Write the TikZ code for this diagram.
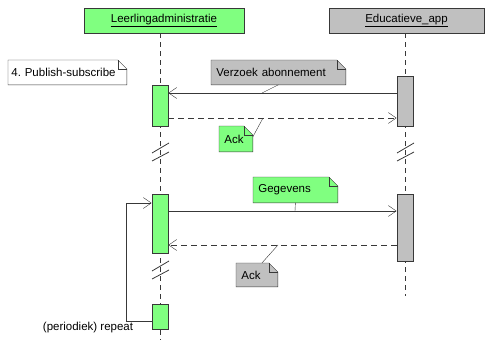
\documentclass[tikz,border=0pt]{standalone}
\usepackage{fontspec}
\setmainfont{Liberation Sans}
\usetikzlibrary{arrows.meta,calc,backgrounds,positioning}
\definecolor{lgreen}{RGB}{128,255,128}
\definecolor{lgray}{RGB}{192,192,192}
\definecolor{linec}{RGB}{56,56,56}
% note with folded corner, drawn behind the node text
\newcommand{\foldnote}[2]{%
  \begin{pgfonlayer}{background}
    \filldraw[fill=#2,draw=linec] (#1.south west) -- (#1.north west) -- ([xshift=-9pt]#1.north east)
      -- ([yshift=-9pt]#1.north east) -- (#1.south east) -- cycle;
    \draw[linec] ([xshift=-9pt]#1.north east) |- ([yshift=-9pt]#1.north east);
  \end{pgfonlayer}}

\begin{document}
\begin{tikzpicture}[x=1pt,y=-1pt,>={Straight Barb[length=8pt,width=11pt]},line width=0.8pt,
  font=\fontsize{11.5}{13}\selectfont,
  head/.style={draw=linec,minimum width=#1,minimum height=25pt,inner sep=0pt},
  act/.style={draw=linec,minimum width=16pt,minimum height=#1,inner sep=0pt},
  note/.style={anchor=north west,minimum height=24pt,inner xsep=5pt,inner ysep=0pt,text width=#1,align=left},
  life/.style={linec,dash pattern=on 5pt off 4pt},
  msg/.style={->,linec},
  reply/.style={->,linec,dash pattern=on 6pt off 4pt}]
  \useasboundingbox (0,0) rectangle (487,340);
  % lifelines
  \node[head=160pt,fill=lgreen] (LA) at (164,20.5) {\underline{Leerlingadministratie}};
  \node[head=155pt,fill=lgray]  (EA) at (406.5,20.5) {\underline{Educatieve\_app}};
  \coordinate (endL) at (160,340);
  \coordinate (endR) at (405,296);
  \draw[life] (LA.south -| endL) -- (endL);
  \draw[life] (EA.south -| endR) -- (endR);
  \foreach \x/\y in {160/152,405/152,160/270}
    \draw[linec] (\x-8,\y+1) -- (\x+9,\y-9) (\x-8,\y+9) -- (\x+9,\y);
  % activations
  \node[act=41pt,fill=lgreen] (L1) at (160,105.5) {};
  \node[act=50pt,fill=lgray]  (R1) at (405,101) {};
  \node[act=59pt,fill=lgreen] (L2) at (160,223.5) {};
  \node[act=67pt,fill=lgray]  (R2) at (405,227.5) {};
  \node[act=25pt,fill=lgreen] (L3) at (160,316.5) {};
  % notes
  \node[note=112pt,inner xsep=3pt] (n0) at (8,60) {4.\ Publish-subscribe};
  \node[note=124pt] (n1) at (211,60) {Verzoek abonnement};
  \node[note=23pt,minimum height=25pt] (n2) at (219,126) {Ack};
  \node[note=74pt,minimum height=25pt] (n3) at (253,177) {Gegevens};
  \node[note=31pt,minimum height=23pt] (n4) at (236,263) {Ack};
  \foldnote{n0}{white}
  \foldnote{n1}{lgray}
  \foldnote{n2}{lgreen}
  \foldnote{n3}{lgreen}
  \foldnote{n4}{lgray}
  % messages
  \coordinate (c1) at (262,93);
  \coordinate (c2) at (263,118);
  \coordinate (c3) at (295,211);
  \coordinate (c4) at (278,245);
  \path
    (R1.west |- c1) edge[msg] (L1.east |- c1)
    (L1.east |- c2) edge[reply] (R1.west |- c2)
    (L2.east |- c3) edge[msg] (R2.west |- c3)
    (R2.west |- c4) edge[reply] (L2.east |- c4)
  ;
  \draw[linec] (n1.south) -- (c1);
  \draw[linec] ([yshift=2pt]n2.east) -- (c2);
  \draw[linec] (n3.south) -- (c3);
  \draw[linec] ([xshift=5pt]n4.north) -- (c4);
  % repeat loop
  \coordinate (lp) at (126,321);
  \coordinate (lq) at (126,203);
  \draw[msg] (L3.west |- lp) -- (lp) -- (lq) -- (L2.west |- lq);
  \node (rep) at (88,328) {(periodiek) repeat};
\end{tikzpicture}
\end{document}
